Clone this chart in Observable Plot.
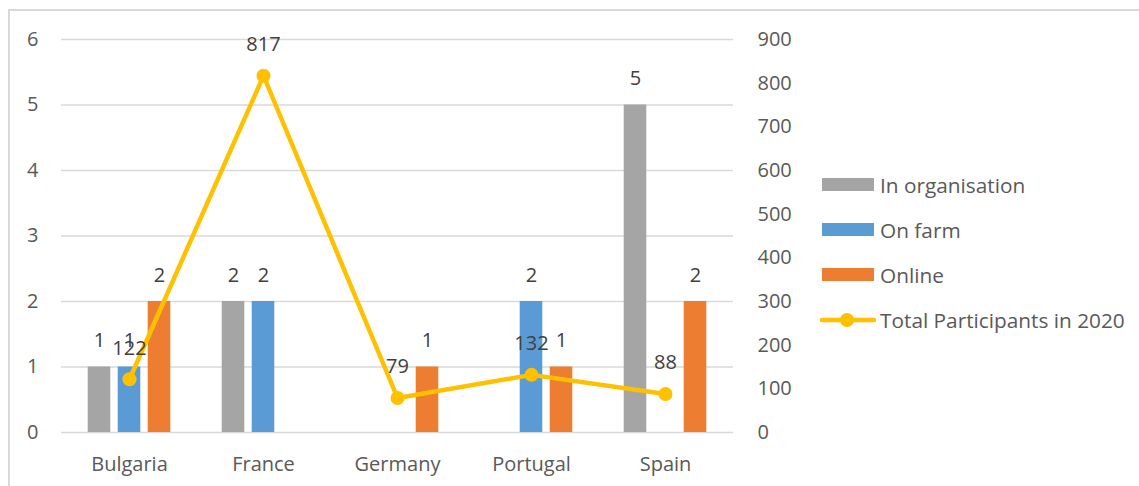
<!DOCTYPE html>
<html>
<head>
<meta charset="utf-8">
<script src="https://cdn.jsdelivr.net/npm/d3@7"></script>
<script src="https://cdn.jsdelivr.net/npm/@observablehq/plot@0.6"></script>
<style>
  body { margin: 0; background: #fff; font-family: "Open Sans", sans-serif; }
  #wrap { position: relative; width: 1139px; height: 486px; overflow: hidden; }
  #border { position: absolute; left: 8px; top: 9px; width: 1300px; height: 700px;
            border: 2px solid #d9d9d9; pointer-events: none; }
  #legend { position: absolute; left: 820px; top: 162px; color: #595959; font-size: 20.8px; }
  .row { display: flex; align-items: center; height: 45px; }
  .sw { width: 52px; height: 13px; margin-left: 2px; margin-right: 6px; }
  .ln { width: 56px; height: 16px; margin-right: 4px; }
</style>
</head>
<body>
<div id="wrap">
  <div id="chart"></div>
  <div id="border"></div>
  <div id="legend"></div>
</div>
<script>
// Training formats per country (left axis) and total participants (right axis)
const countries = ["Bulgaria", "France", "Germany", "Portugal", "Spain"];
const inOrganisation = [1, 2, null, null, 5];
const onFarm = [1, 2, null, 2, null];
const online = [2, null, 1, 1, 2];
const totalParticipants = [122, 817, 79, 132, 88];

const leftTicks = [0, 1, 2, 3, 4, 5, 6];
const rightTicks = [0, 100, 200, 300, 400, 500, 600, 700, 800, 900];

const seriesNames = ["In organisation", "On farm", "Online"];
const seriesColors = ["#a5a5a5", "#5b9bd5", "#ed7d31"];
const lineName = "Total Participants in 2020";
const lineColor = "#ffc000";

// secondary axis maps participants onto the left 0–6 scale
const toLeft = d3.scaleLinear([0, 900], [0, 6]);

const seriesValues = [inOrganisation, onFarm, online];
const tables = seriesValues.map((vals, i) =>
  countries.map((c, j) => ({ country: c, value: vals[j], series: seriesNames[i] }))
           .filter(d => d.value != null)
);
const lineData = countries.map((c, j) => ({ country: c, total: totalParticipants[j] }));

const barW = 23, step = 30;
const bandW = (1139 - 61 - 406) / countries.length;
const inset = (bandW - barW) / 2;

const marks = [
  Plot.ruleY(leftTicks, { stroke: "#d9d9d9", strokeWidth: 1.5 }),
  Plot.axisY(leftTicks, { anchor: "left", tickSize: 0, tickPadding: 23, fontSize: 20, fill: "#595959",
    tickFormat: d => String(d), label: null }),
  Plot.axisY(rightTicks.map(toLeft), { anchor: "right", tickSize: 0, tickPadding: 24, fontSize: 20, fill: "#595959", textAnchor: "start",
    tickFormat: d => String(Math.round(toLeft.invert(d))), label: null }),
  Plot.axisX({ tickSize: 0, tickPadding: 24, fontSize: 20, fill: "#595959", label: null })
];

tables.forEach((t, i) => {
  marks.push(Plot.barY(t, { x: "country", y: "value", fill: seriesColors[i],
    insetLeft: inset, insetRight: inset, dx: (i - 1) * step }));
});

marks.push(Plot.line(lineData, { x: "country", y: d => toLeft(d.total), stroke: lineColor, strokeWidth: 4.5 }));
marks.push(Plot.dot(lineData, { x: "country", y: d => toLeft(d.total), r: 7, fill: lineColor }));

tables.forEach((t, i) => {
  marks.push(Plot.text(t, { x: "country", y: "value", text: d => String(d.value), dx: (i - 1) * step, dy: -26,
    fontSize: 20, fill: "#404040" }));
});
marks.push(Plot.text(lineData, { x: "country", y: d => toLeft(d.total), text: d => String(d.total), dy: -31,
  fontSize: 20, fill: "#404040" }));

const chart = Plot.plot({
  width: 1139,
  height: 486,
  marginLeft: 61,
  marginRight: 406,
  marginTop: 39,
  marginBottom: 54,
  style: { fontFamily: "'Open Sans', sans-serif", background: "transparent" },
  x: { domain: countries, padding: 0, axis: null },
  y: { domain: [0, 6], axis: null },
  marks
});
document.getElementById("chart").appendChild(chart);

// legend beside the plot
const legend = document.getElementById("legend");
seriesNames.forEach((name, i) => {
  const row = document.createElement("div");
  row.className = "row";
  row.innerHTML = `<div class="sw" style="background:${seriesColors[i]}"></div><span>${name}</span>`;
  legend.appendChild(row);
});
const lrow = document.createElement("div");
lrow.className = "row";
lrow.innerHTML = `<svg class="ln" viewBox="0 0 56 16"><line x1="2" y1="8" x2="54" y2="8" stroke="${lineColor}" stroke-width="4.5" stroke-linecap="round"/><circle cx="27" cy="8" r="7" fill="${lineColor}"/></svg><span>${lineName}</span>`;
legend.appendChild(lrow);
</script>
</body>
</html>
